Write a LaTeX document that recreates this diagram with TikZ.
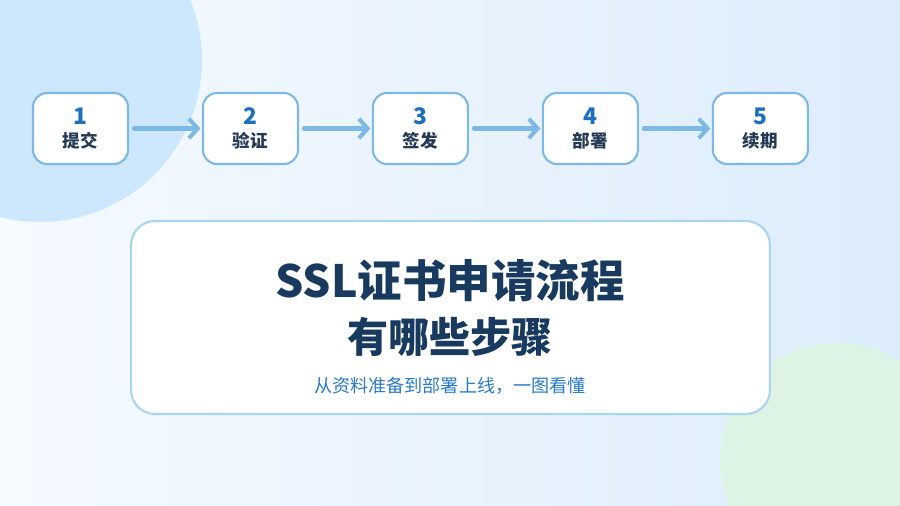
\documentclass[tikz,border=0pt]{standalone}
\usepackage{fontspec}
\setmainfont{Noto Sans CJK SC}
\usetikzlibrary{arrows.meta,positioning}

\definecolor{bgleft}{HTML}{F5FAFF}
\definecolor{bgright}{HTML}{DDECFC}
\definecolor{blobblue}{HTML}{CDE8FD}
\definecolor{blobgreen}{HTML}{DDF3E4}
\definecolor{boxline}{HTML}{7DB9E6}
\definecolor{arrowblue}{HTML}{7DB9E6}
\definecolor{numblue}{HTML}{1E6FBF}
\definecolor{labeldark}{HTML}{243A55}
\definecolor{titlenavy}{HTML}{173A5E}
\definecolor{subblue}{HTML}{2A7BC8}
\definecolor{cardline}{HTML}{A9D5EF}

\newcommand{\stepnum}[2]{{\color{numblue}\fontsize{13pt}{15pt}\selectfont\bfseries #1}\\[1pt]{\color{labeldark}\fontsize{10pt}{12pt}\selectfont\bfseries #2}}

\begin{document}
\begin{tikzpicture}[
        x=0.02cm, y=-0.02cm,
        node distance=1.5cm,
        stepbox/.style={draw=boxline, line width=1.2pt, rounded corners=0.28cm, fill=white, minimum width=1.9cm, minimum height=1.42cm, align=center, inner sep=0pt, outer sep=0pt},
        card/.style={draw=cardline, line width=1.2pt, rounded corners=0.48cm, fill=white, minimum width=12.78cm, minimum height=3.86cm, outer sep=0pt},
        flow/.style={-{Straight Barb[length=5pt,width=11pt]}, line width=2.3pt, draw=arrowblue, line cap=round, shorten <=0.12cm, shorten >=0.05cm}
    ]
        \useasboundingbox (0,0) rectangle (900,506);

        % Background
        \begin{scope}
            \clip (0,0) rectangle (900,506);
            \fill[left color=bgleft, right color=bgright] (0,0) rectangle (900,506);
            \fill[blobblue] (40,60) circle[radius=3.24cm];
            \fill[blobgreen] (837,460) circle[radius=2.34cm];
        \end{scope}

        % Steps
        \node[stepbox] (submit) at (80.5,128.5) {\stepnum{1}{提交}};
        \node[stepbox, right=of submit] (verify) {\stepnum{2}{验证}};
        \node[stepbox, right=of verify] (issue) {\stepnum{3}{签发}};
        \node[stepbox, right=of issue] (deploy) {\stepnum{4}{部署}};
        \node[stepbox, right=of deploy] (renew) {\stepnum{5}{续期}};

        % Connections
        \draw[flow] (submit) -- (verify);
        \draw[flow] (verify) -- (issue);
        \draw[flow] (issue) -- (deploy);
        \draw[flow] (deploy) -- (renew);

        % Title card
        \node[card] (card) at (450.5,317.5) {};
        \node[text=titlenavy, font=\fontsize{25.3pt}{30pt}\selectfont\bfseries] (title) at (450,281) {SSL证书申请流程};
        \node[text=titlenavy, font=\fontsize{23.4pt}{28pt}\selectfont\bfseries] (question) at (450,337) {有哪些步骤};
        \node[text=subblue, font=\fontsize{10.3pt}{12pt}\selectfont] (subtitle) at (450,386) {从资料准备到部署上线，一图看懂};
    \end{tikzpicture}
\end{document}
